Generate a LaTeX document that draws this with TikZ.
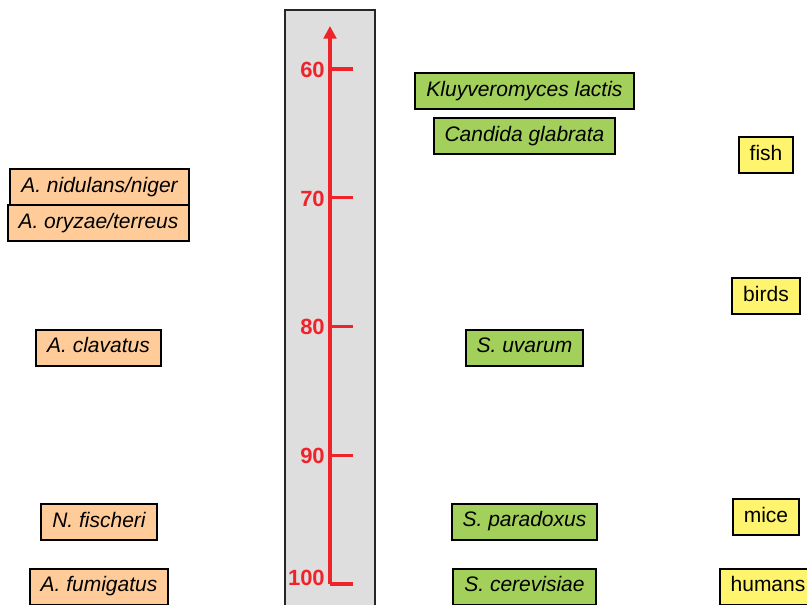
\documentclass[tikz,border=0pt]{standalone}
\usepackage{fontspec}
\setmainfont{Liberation Sans}
\usepackage{tikz}
\usetikzlibrary{arrows.meta, positioning}
\definecolor{scalered}{RGB}{238,36,42}
\definecolor{bargray}{RGB}{222,222,222}
\definecolor{mouldorange}{RGB}{255,204,153}
\definecolor{yeastgreen}{RGB}{163,207,91}
\definecolor{animalyellow}{RGB}{255,244,110}
\tikzstyle{species} = [rectangle, minimum height=27pt, inner xsep=8.25pt, text height=11.3pt, text depth=3.3pt, text centered, draw=black, line width=1.5pt, font=\fontsize{15.75}{18}\selectfont\itshape]
\tikzstyle{mould} = [species, fill=mouldorange]
\tikzstyle{yeast} = [species, fill=yeastgreen]
\tikzstyle{animal} = [species, fill=animalyellow, font=\fontsize{15.75}{18}\selectfont]
\tikzstyle{scalebar} = [draw=black!85, line width=1.5pt, fill=bargray]
\tikzstyle{axisline} = [draw=scalered, line width=2.4pt, -{Triangle[length=9.5pt, width=9.5pt]}]
\tikzstyle{scalemark} = [draw=scalered, line width=2.4pt]
\tikzstyle{scalelabel} = [anchor=east, inner sep=0pt, text=scalered, font=\fontsize{16.5}{18}\selectfont\bfseries]

\begin{document}
\begin{tikzpicture}[x=0.75pt, y=-0.75pt]
\clip (0,0) rectangle (807,604);
\fill[white] (0,0) rectangle (807,604);
\draw [scalebar] (285,10) rectangle (375,640);

\coordinate (axisbot) at (330,584);
\coordinate (axistop) at (330,26);
\draw [axisline] (axisbot) -- (axistop);
\foreach \v/\y/\ly in {60/69/70, 70/197.75/198.5, 80/326.5/327, 90/455.25/455.5, 100/584/577.5}{
  \coordinate (mark\v) at (330,\y);
  \coordinate (markend\v) at (353,\y);
  \draw [scalemark] (mark\v) -- (markend\v);
  \node (label\v) [scalelabel] at (325,\ly) {\v};
}

\node (nidulans) [mould] at (99.5,187) {A. nidulans/niger};
\node (oryzae) [mould] at (98.5,223) {A. oryzae/terreus};
\node (clavatus) [mould] at (98.5,347.5) {A. clavatus};
\node (fischeri) [mould] at (99,522) {N. fischeri};
\node (fumigatus) [mould] at (99,586.5) {A. fumigatus};

\node (lactis) [yeast] at (524.5,91) {Kluyveromyces lactis};
\node (glabrata) [yeast] at (524.5,136) {Candida glabrata};
\node (uvarum) [yeast] at (524.5,347.5) {S. uvarum};
\node (paradoxus) [yeast] at (524.5,521.5) {S. paradoxus};
\node (cerevisiae) [yeast] at (524.5,586.5) {S. cerevisiae};

\node (fish) [animal] at (766,155) {fish};
\node (birds) [animal] at (766,296) {birds};
\node (mice) [animal] at (766,517) {mice};
\node (humans) [animal] at (768,586.5) {humans};
\end{tikzpicture}
\end{document}
